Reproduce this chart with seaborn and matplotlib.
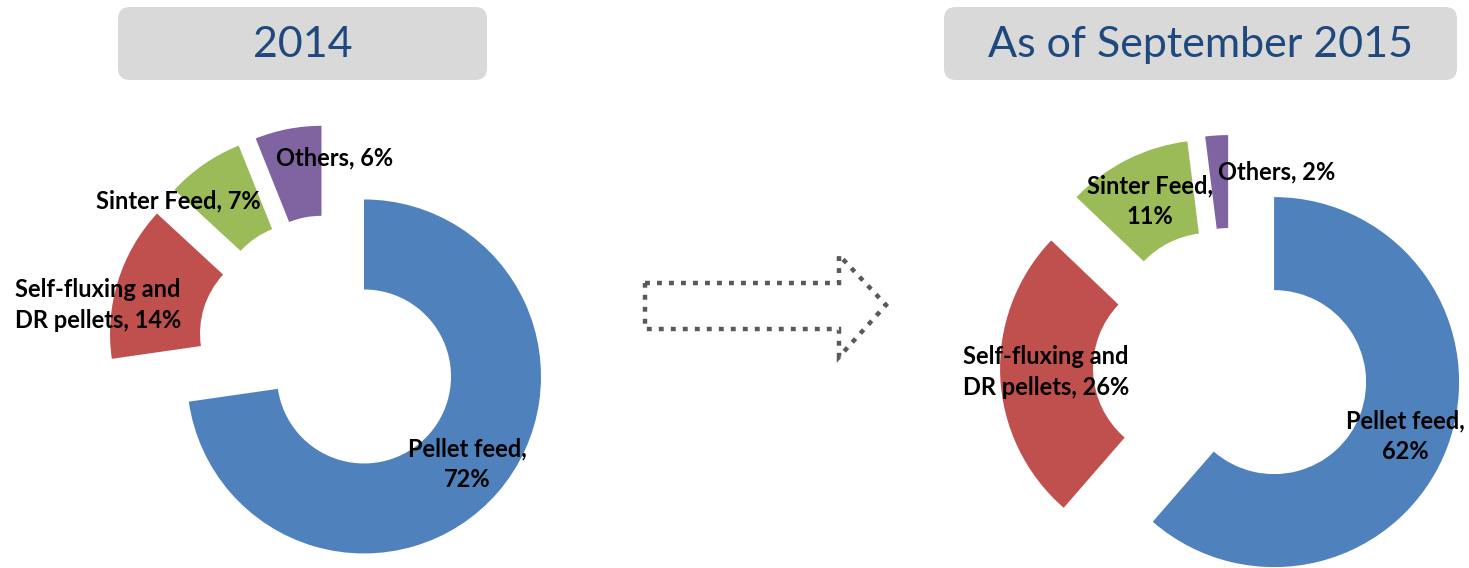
import matplotlib
matplotlib.use("Agg")
import matplotlib.pyplot as plt
from matplotlib.patches import FancyBboxPatch, Polygon
import seaborn as sns

# Iron ore product mix, share of sales (%)
categories = ["Pellet feed", "Self-fluxing and\nDR pellets", "Sinter Feed", "Others"]
share_2014 = [72, 14, 7, 6]
share_2015 = [62, 26, 11, 2]
period_titles = ["2014", "As of September 2015"]

sns.set_theme(style="white")
plt.rcParams["font.family"] = ["Lato", "DejaVu Sans"]

colors = ["#4F81BD", "#C0504D", "#9BBB59", "#8064A2"]

W, H = 1469, 568
fig = plt.figure(figsize=(W / 100, H / 100), dpi=100)
ax = fig.add_axes([0, 0, 1, 1])


def donut(values, center, radius, width, offset):
    ax.pie(values, colors=colors, center=center, radius=radius,
           startangle=90, counterclock=False,
           explode=[offset] * len(values),
           wedgeprops=dict(width=width, linewidth=0))


donut(share_2014, (330, H - 347), 177, 90, 45)
donut(share_2015, (1231, H - 366), 185, 93, 46)


def label(text, x, y):
    ax.text(x, H - y, text, ha="center", va="center", fontsize=17,
            fontweight="bold", color="black", linespacing=1.42)


# 2014 labels
label(f"Others, {share_2014[3]}%", 335, 158)
label(f"Sinter Feed, {share_2014[2]}%", 178, 201)
label(f"Self-fluxing and\nDR pellets, {share_2014[1]}%", 98, 305)
label(f"Pellet feed,\n{share_2014[0]}%", 467, 464)

# 2015 labels
label(f"Others, {share_2015[3]}%", 1277, 172)
label(f"Sinter Feed,\n{share_2015[2]}%", 1150, 201)
label(f"Self-fluxing and\nDR pellets, {share_2015[1]}%", 1046, 372)
label(f"Pellet feed,\n{share_2015[0]}%", 1405, 436)

# Title boxes
for (x0, x1), title in zip([(118, 487), (944, 1457)], period_titles):
    box = FancyBboxPatch((x0, H - 80), x1 - x0, 73,
                         boxstyle="round,pad=0,rounding_size=12",
                         facecolor="#D9D9D9", edgecolor="none")
    ax.add_patch(box)
    ax.text((x0 + x1) / 2, H - 45, title, ha="center", va="center",
            fontsize=31, color="#1F497D")

# Dotted block arrow between the two periods
arrow_pts = [(645, 283), (839, 283), (839, 255), (886, 305),
             (839, 357), (839, 329), (645, 329)]
arrow = Polygon([(x, H - y) for x, y in arrow_pts], closed=True,
                facecolor="none", edgecolor="#595959", linewidth=3.2,
                linestyle=(0, (1.1, 1.6)))
ax.add_patch(arrow)

ax.set_xlim(0, W)
ax.set_ylim(0, H)
ax.set_aspect("equal")
ax.axis("off")

fig.savefig("out.png", dpi=100, facecolor="white")
